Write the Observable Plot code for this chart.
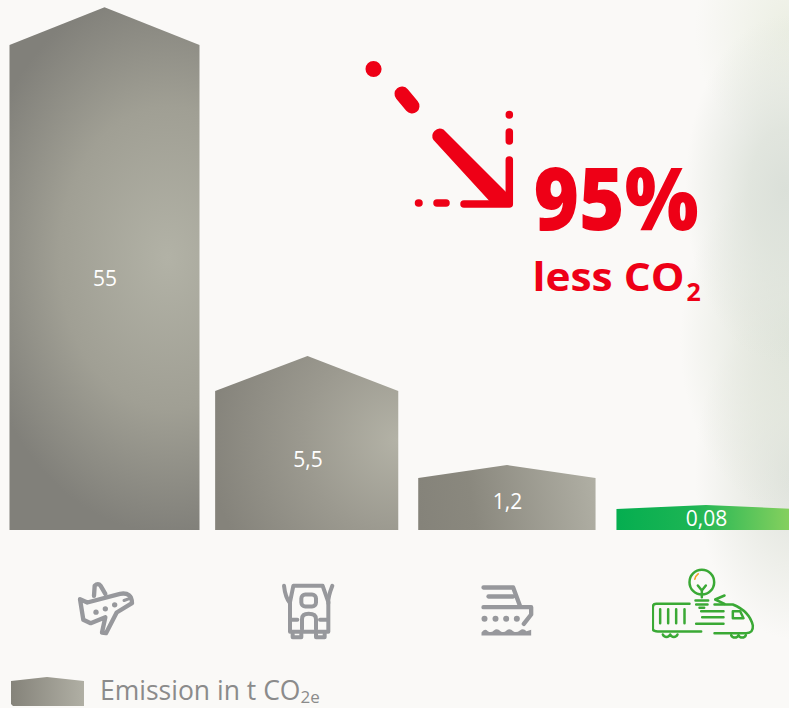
<!DOCTYPE html>
<html><head><meta charset="utf-8">
<script src="https://cdn.jsdelivr.net/npm/d3@7"></script>
<script src="https://cdn.jsdelivr.net/npm/@observablehq/plot@0.6"></script>
<style>
html,body{margin:0;padding:0;width:789px;height:708px;overflow:hidden;background-color:#faf9f7;}
#bg{position:absolute;left:0;top:0;width:789px;height:708px;background:
 radial-gradient(ellipse 100px 175px at 785px 190px,rgba(219,224,217,1) 0%,rgba(221,226,218,.85) 35%,rgba(225,229,220,0) 100%),
 radial-gradient(ellipse 95px 120px at 790px 30px,rgba(232,236,222,.8) 0%,rgba(232,236,222,0) 100%),
 radial-gradient(ellipse 115px 175px at 795px 340px,rgba(223,228,218,1) 0%,rgba(226,230,220,.7) 45%,rgba(226,230,220,0) 100%),
 radial-gradient(ellipse 100px 170px at 795px 470px,rgba(221,225,219,1) 0%,rgba(226,229,221,.6) 50%,rgba(226,229,221,0) 100%),
 linear-gradient(#faf9f7,#faf9f7);}
#chart{position:absolute;left:0;top:0}
#legend{position:absolute;left:0;top:668px;width:789px;height:40px;font-family:"Open Sans",sans-serif;color:#8b8b8b;}
#legend svg{position:absolute;left:11px;top:9px}
#legend span{position:absolute;left:100px;top:5px;font-size:26.5px;line-height:34px;white-space:nowrap}
#legend sub{font-size:17px;line-height:0;vertical-align:-3px}
</style></head><body>
<div id="bg"></div><div id="chart"></div>
<div id="legend"><svg width="73" height="30" viewBox="0 0 73 30"><defs><linearGradient id="lg"><stop offset="0" stop-color="#85837a"/><stop offset="1" stop-color="#b0afa4"/></linearGradient></defs><path d="M0,4 L36,0 L73,4 V29 H2 L0,27Z" fill="url(#lg)"/></svg><span>Emission in t CO<sub>2e</sub></span></div>
<script>
// Data
const categories = ["Plane", "Car", "Ship", "Rail"];
const emissions = [55, 5.5, 1.2, 0.08];
const valueLabels = ["55", "5,5", "1,2", "0,08"];
const roofPeaks = [60.4, 10.5, 1.84, 0.225]; // the apex of each house-shaped bar, in t
const headline = "95%";
const subline = "less CO";

// Layout
const halfWidth = [0.468, 0.455, 0.445, 0.45];
const labelTop = [279, 460, 502, 519];
const W = 789, H = 668;
const fills = ["url(#g0)", "url(#g1)", "url(#g2)", "url(#g3)"];
const red = "#ee0016", grey = "#97989c", green = "#3aa935";
const font = '"Open Sans",sans-serif';
// the pictured bars are not to linear scale: value → pictured height, slot → centre
const pictureHeight = d3.scaleLinear([0, 0.08, 1.2, 5.5, 55], [0, 21, 52, 139, 485]);
const slotCentre = d3.scaleLinear([0, 1, 2, 3], [104.5, 307.5, 507, 706]);

const wrap = (vb, body, col) => "data:image/svg+xml," + encodeURIComponent(
 `<svg xmlns="http://www.w3.org/2000/svg" viewBox="${vb}" fill="none" stroke="${col}" stroke-linecap="round" stroke-linejoin="round">${body}</svg>`);
const icons = [
 wrap("150 12 330 240", `<g stroke-width="13"><path d="M240,116 L262,126 L360,100 Q396,94 396,128 L350,156 L318,218 L306,216 L316,170 L272,188 L250,178Z"/><path d="M282,106 L284,76 Q294,66 302,76 L316,100"/><path d="M372,120 L394,112" stroke-width="9"/></g><g fill="${grey}" stroke="none"><circle cx="288" cy="155" r="8"/><circle cx="316" cy="145" r="8"/><circle cx="344" cy="133" r="8"/></g>`, grey),
 wrap("759 12 330 240", `<g stroke-width="12"><path d="M880,76 L968,76 L985,125 V214 H870 V125Z"/><path d="M852,76 Q856,112 870,128"/><path d="M997,76 Q983,112 985,128"/><rect x="904" y="102" width="44" height="36" rx="12"/><path d="M906,206 V176 Q906,160 926,160 Q948,160 948,176 V206"/><path d="M872,178 H892 M960,178 H984"/><path d="M878,220 V230 H904 V220 M948,220 V230 H974 V220"/></g>`, grey),
 wrap("156 342 330 240", `<g stroke-width="13"><path d="M249,411 H338 L358,465"/><path d="M264,438 H338"/><path d="M249,470 H392 V492 L370,520"/></g><g fill="${grey}" stroke="none"><circle cx="252" cy="505" r="9"/><circle cx="285" cy="505" r="9"/><circle cx="317" cy="505" r="9"/><circle cx="349" cy="505" r="9"/><path d="M243,546 Q252,532 262,542 Q272,548 280,540 Q290,532 300,542 Q310,548 318,540 Q328,532 338,542 Q348,548 358,540 Q368,532 378,542 L392,538 V555 H243Z"/></g>`, grey),
 wrap("756 342 330 240", `<g stroke-width="7.5"><circle cx="907" cy="395" r="37"/><path d="M895,405 L907,420 L919,405 M907,420 V440"/><path d="M888,450 H926 M890,462 H924 M900,472 H914"/><path d="M975,435 L947,447 L975,460"/><path d="M870,460 H770 Q760,460 760,470 V535 Q760,543 775,543 H905"/><path d="M782,476 V518 M806,476 V518 M830,476 V518 M855,476 V518"/><path d="M945,462 H1000 Q1050,482 1060,525 Q1062,548 1040,548 H945"/><path d="M905,482 H972 M908,500 H972 M890,520 H972"/><path d="M1000,482 H1022 L1032,503 H1000Z"/><path d="M790,552 a12,12 0 0 0 22,0 a12,12 0 0 0 22,0 M995,554 a12,12 0 0 0 22,0 a12,12 0 0 0 22,0"/></g><path d="M896,370 Q888,376 886,386" stroke="#f5a623" stroke-width="5"/>`, green)
];

const defs = () => {
 const d = d3.create("svg:defs");
 d.html(`
 <radialGradient id="g0" gradientUnits="userSpaceOnUse" cx="168" cy="258" r="275" gradientTransform="translate(168 258) scale(0.72 1) translate(-168 -258)">
  <stop offset="0" stop-color="#b2b2a6"/><stop offset="0.55" stop-color="#a09f94"/><stop offset="1" stop-color="#81807a"/></radialGradient>
 <radialGradient id="g1" gradientUnits="userSpaceOnUse" cx="398" cy="440" r="190">
  <stop offset="0" stop-color="#b3b2a6"/><stop offset="0.5" stop-color="#9b998f"/><stop offset="1" stop-color="#85837b"/></radialGradient>
 <linearGradient id="g2" gradientUnits="userSpaceOnUse" x1="418" y1="510" x2="596" y2="480">
  <stop offset="0" stop-color="#85837a"/><stop offset="0.3" stop-color="#8a887e"/><stop offset="1" stop-color="#b0afa4"/></linearGradient>
 <linearGradient id="g3" gradientUnits="userSpaceOnUse" x1="617" y1="0" x2="789" y2="0">
  <stop offset="0" stop-color="#05ae50"/><stop offset="0.45" stop-color="#1db554"/><stop offset="1" stop-color="#85d05e"/></linearGradient>`);
 return d.node();
};

const arrow = () => {
 const g = d3.create("svg:g").attr("fill","none").attr("stroke",red).attr("stroke-linecap","round").attr("stroke-linejoin","round");
 const seg = [
  ["M373.5,69 L373.6,69.1",16],["M402,94 L412,106",15],
  ["M509.3,114.5 L509.3,115",7.5],["M509.3,132 L509.3,141",7.5],["M509.3,160 L509.3,204 L464,204",7.5],
  ["M418.5,203 L419,203",7.5],["M437,203 L446,203",7.5]];
 seg.forEach(([p,w]) => g.append("path").attr("d",p).attr("stroke-width",w));
 g.append("path").attr("stroke","none").attr("fill",red).attr("d","M443.5,129.5 L506,192 V206 H494 L433.5,140 A7.5,7.5 0 0 1 443.5,129.5Z");
 return g.node();
};

const barMarks = categories.flatMap((c, i) => {
 const pts = [
  {x: i - halfWidth[i], y: emissions[i]},
  {x: i, y: roofPeaks[i]},
  {x: i + halfWidth[i], y: emissions[i]}];
 return [
  Plot.area(pts, {x1: "x", y1: () => 0, y2: "y", fill: fills[i]}),
  Plot.text([valueLabels[i]], {x: () => i, frameAnchor: "top", lineAnchor: "middle", dy: labelTop[i], text: d => d, fill: "#ffffff", fontSize: 21, fontFamily: font})
 ];
});

const chart = Plot.plot({
 width: W, height: H, margin: 0,
 style: {background: "transparent", overflow: "visible"},
 x: {transform: slotCentre, domain: [0, W], range: [0, W], axis: null},
 y: {transform: pictureHeight, domain: [0, 530], range: [530, 0], axis: null},
 marks: [
  defs,
  ...barMarks,
  Plot.image(categories, {x: (d, i) => i, frameAnchor: "top", dy: 604, width: 110, height: 80, src: (d, i) => icons[i]}),
  arrow,
  Plot.text([headline], {frameAnchor: "top-left", lineAnchor: "middle", dx: 533, dy: 202, text: d => d, fill: red, fontSize: 86, fontWeight: 800, fontFamily: font}),
  Plot.text([subline], {frameAnchor: "top-left", lineAnchor: "middle", dx: 532, dy: 278, text: d => d, fill: red, fontSize: 40, fontWeight: 700, fontFamily: font}),
  Plot.text(["2"], {frameAnchor: "top-left", lineAnchor: "middle", dx: 686, dy: 292, text: d => d, fill: red, fontSize: 25, fontWeight: 700, fontFamily: font})
 ]
});
document.getElementById("chart").append(chart);
// fit the two red texts to the width they take in the picture
chart.querySelectorAll("text").forEach(t => {
 const s = t.textContent;
 const w = s === headline ? 165 : s === subline ? 152 : 0;
 if (w) { t.setAttribute("textLength", w); t.setAttribute("lengthAdjust", "spacingAndGlyphs"); }
});
</script></body></html>
